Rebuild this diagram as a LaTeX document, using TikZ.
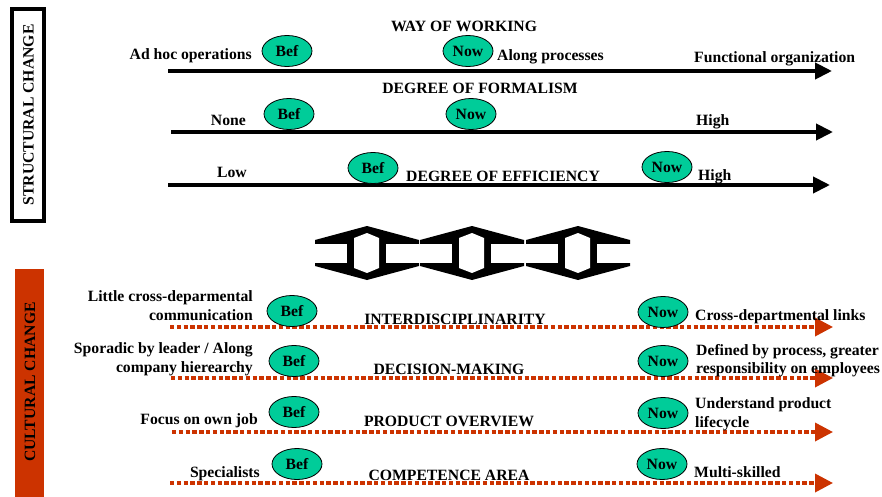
\documentclass[tikz,border=0pt]{standalone}
\usepackage{fontspec}
\setmainfont{Liberation Serif}
\usetikzlibrary{arrows.meta,shapes.geometric}

\definecolor{stagegreen}{RGB}{0,204,153}
\definecolor{culturered}{RGB}{204,51,0}

\begin{document}
\begin{tikzpicture}[x=1pt,y=-1pt,
  every node/.style={font=\fontsize{15.7}{19}\selectfont\bfseries, inner sep=0pt},
  stage/.style={ellipse, draw=black, line width=0.8pt, fill=stagegreen,
                minimum width=50pt, minimum height=31pt},
  lbl/.style={anchor=base},
  lblr/.style={anchor=base east},
  lbll/.style={anchor=base west},
  structarrow/.style={line width=4pt, -{Triangle[length=17pt,width=16pt]}},
  culturearrow/.style={draw=culturered, line width=3.5pt,
                dash pattern=on 4.3pt off 2.5pt,
                -{Triangle[length=18pt,width=18pt,fill=culturered,color=culturered]}},
  pics/link/.style={code={
    \fill[black] (-52,-13) -- (0,-27) -- (52,-13) -- (52,13) -- (0,27) -- (-52,13) -- cycle;
    \fill[white] (-53,-9.5) rectangle (-20,9.5);
    \fill[white] (19,-9.5) rectangle (53,9.5);
    \fill[white] (0,-20) -- (-13,-15) -- (-13,15) -- (0,20) -- (12,15) -- (12,-15) -- cycle;
  }}
]
\useasboundingbox[fill=white] (0,0) rectangle (882,497);

% ---------- side headings ----------
\draw[line width=4.5pt] (12,9) rectangle (44,221);
\node[rotate=90, anchor=base] (structhead) at (33.5,115) {STRUCTURAL CHANGE};
\fill[culturered] (15,269) rectangle (44,497);
\node[rotate=90, anchor=base] (culthead) at (35,382) {CULTURAL CHANGE};

% ---------- structural scales ----------
\coordinate (s1a) at (168,71);  \coordinate (s1b) at (832,71);
\coordinate (s2a) at (171,132); \coordinate (s2b) at (833,132);
\coordinate (s3a) at (168,185); \coordinate (s3b) at (830,185);
\draw[structarrow] (s1a) -- (s1b);
\draw[structarrow] (s2a) -- (s2b);
\draw[structarrow] (s3a) -- (s3b);

\node[lbl]  (way)   at (464,31.5) {WAY OF WORKING};
\node[lblr] (adhoc) at (252,60)   {Ad hoc operations};
\node[lbll] (along) at (497,61)   {Along processes};
\node[lbll] (func)  at (694,62.5) {Functional organization};
\node[stage] (bef1) at (287,51)  {Bef};
\node[stage] (now1) at (468,51)  {Now};

\node[lbl]  (formal) at (480,94)  {DEGREE OF FORMALISM};
\node[lblr] (none)   at (246,126) {None};
\node[lbll] (high1)  at (696,126) {High};
\node[stage] (bef2) at (289,114) {Bef};
\node[stage] (now2) at (471,114) {Now};

\node[lblr] (low)   at (247,178) {Low};
\node[lbll] (effic) at (406,181.5) {DEGREE OF EFFICIENCY};
\node[lbll] (high2) at (698,180) {High};
\node[stage] (bef3) at (373,168) {Bef};
\node[stage] (now3) at (667,167) {Now};

% ---------- links between the two halves ----------
\pic at (367,253) {link};
\pic at (472,253) {link};
\pic at (578,253) {link};

% ---------- cultural scales ----------
\coordinate (c1a) at (170,327); \coordinate (c1b) at (833,327);
\coordinate (c2a) at (171,378); \coordinate (c2b) at (833,378);
\coordinate (c3a) at (172,432); \coordinate (c3b) at (833,432);
\coordinate (c4a) at (170,483); \coordinate (c4b) at (833,483);
\draw[culturearrow] (c1a) -- (c1b);
\draw[culturearrow] (c2a) -- (c2b);
\draw[culturearrow] (c3a) -- (c3b);
\draw[culturearrow] (c4a) -- (c4b);

\node[lblr] (little)  at (253,301) {Little cross-deparmental};
\node[lblr] (commun)  at (253,320) {communication};
\node[lbl]  (inter)   at (455,324) {INTERDISCIPLINARITY};
\node[lbll] (links)   at (695,320) {Cross-departmental links};
\node[stage] (bef4) at (292,311) {Bef};
\node[stage] (now4) at (663,312) {Now};

\node[lblr] (sporadic) at (253,353) {Sporadic by leader / Along};
\node[lblr] (hier)     at (253,372) {company hierearchy};
\node[lbl]  (decision) at (449,374) {DECISION-MAKING};
\node[lbll] (defined)  at (696,355) {Defined by process, greater};
\node[lbll] (respons)  at (696,373) {responsibility on employees};
\node[stage] (bef5) at (294,361) {Bef};
\node[stage] (now5) at (663,361) {Now};

\node[lblr] (focus)    at (258,424) {Focus on own job};
\node[lbl]  (overview) at (449,426) {PRODUCT OVERVIEW};
\node[lbll] (underst)  at (695,408) {Understand product};
\node[lbll] (lifec)    at (695,427) {lifecycle};
\node[stage] (bef6) at (294,412) {Bef};
\node[stage] (now6) at (663,413) {Now};

\node[lblr] (spec)   at (260,477) {Specialists};
\node[lbl]  (compet) at (449,480) {COMPETENCE AREA};
\node[lbll] (multi)  at (694,477) {Multi-skilled};
\node[stage] (bef7) at (297,464) {Bef};
\node[stage] (now7) at (662,464) {Now};
\end{tikzpicture}
\end{document}
